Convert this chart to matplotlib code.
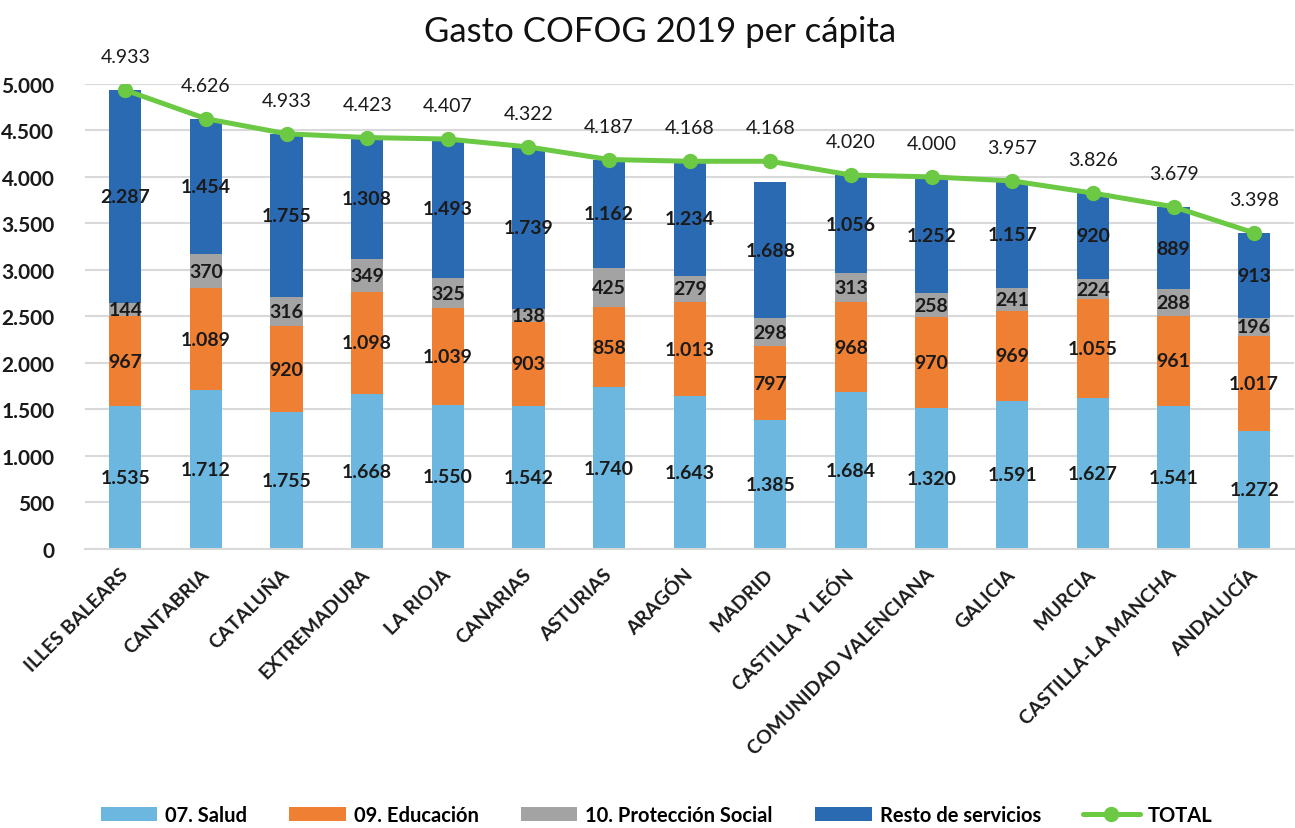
import matplotlib
matplotlib.use('Agg')
import matplotlib.pyplot as plt
import numpy as np

plt.rcParams['font.family'] = ['Lato', 'DejaVu Sans']

regions = ['ILLES BALEARS', 'CANTABRIA', 'CATALUÑA', 'EXTREMADURA', 'LA RIOJA',
           'CANARIAS', 'ASTURIAS', 'ARAGÓN', 'MADRID', 'CASTILLA Y LEÓN',
           'COMUNIDAD VALENCIANA', 'GALICIA', 'MURCIA', 'CASTILLA-LA MANCHA', 'ANDALUCÍA']

# bar heights as drawn in the picture
salud = [1535, 1712, 1473, 1668, 1550, 1542, 1740, 1643, 1385, 1684, 1520, 1591, 1627, 1541, 1272]
educ = [967, 1089, 920, 1098, 1039, 903, 858, 1013, 797, 968, 970, 969, 1055, 961, 1017]
prot = [144, 370, 316, 349, 325, 138, 425, 279, 298, 313, 258, 241, 224, 288, 196]
resto = [2287, 1454, 1755, 1308, 1493, 1739, 1162, 1234, 1466, 1056, 1252, 1157, 920, 889, 913]
total = [4933, 4626, 4464, 4423, 4407, 4322, 4187, 4168, 4168, 4020, 4000, 3957, 3826, 3679, 3398]

# labels as printed (a few differ from the drawn heights in the original)
salud_lbl = [1535, 1712, 1755, 1668, 1550, 1542, 1740, 1643, 1385, 1684, 1320, 1591, 1627, 1541, 1272]
resto_lbl = [2287, 1454, 1755, 1308, 1493, 1739, 1162, 1234, 1688, 1056, 1252, 1157, 920, 889, 913]
total_lbl = [4933, 4626, 4933, 4423, 4407, 4322, 4187, 4168, 4168, 4020, 4000, 3957, 3826, 3679, 3398]

COLORS = {
    'salud': '#6BB7DF',
    'educ': '#EE7F33',
    'prot': '#A3A3A3',
    'resto': '#2A6AB2',
    'total': '#6BC944',
}


def fmt(v):
    return f'{v:,.0f}'.replace(',', '.')


fig = plt.figure(figsize=(12.95, 8.29), dpi=100)
ax = fig.add_axes([0.0656, 0.3366, 0.934, 0.561])

x = np.arange(len(regions))
w = 0.40
bottom = np.zeros(len(regions))
series = [
    (salud, salud_lbl, 'salud', '07. Salud'),
    (educ, educ, 'educ', '09. Educación'),
    (prot, prot, 'prot', '10. Protección Social'),
    (resto, resto_lbl, 'resto', 'Resto de servicios'),
]
handles = []
for vals, lbls, key, name in series:
    bars = ax.bar(x, vals, w, bottom=bottom, color=COLORS[key], label=name, zorder=2)
    handles.append(bars)
    ax.bar_label(bars, labels=[fmt(v) for v in lbls], label_type='center',
                 fontsize=14, fontweight='bold', color='#1a1a1a', zorder=5)
    bottom += np.array(vals)

line, = ax.plot(x, total, '-o', color=COLORS['total'], lw=3.6, markersize=10,
                solid_joinstyle='round', solid_capstyle='round', label='TOTAL', zorder=4)
handles.append(line)
for xi, yi, lb in zip(x, total, total_lbl):
    ax.annotate(fmt(lb), (xi, yi), xytext=(0, 24), textcoords='offset points',
                ha='center', va='center', fontsize=14, color='#1a1a1a',
                annotation_clip=False)

ax.set_xlim(-0.5, len(regions) - 0.5)
ax.set_ylim(0, 5000)
ax.set_yticks(np.arange(0, 5001, 500))
ax.set_yticklabels([fmt(v) for v in np.arange(0, 5001, 500)], fontsize=15,
                   fontweight='bold', color='#1a1a1a')
ax.set_xticks(x)
ax.set_xticklabels(regions, rotation=45, ha='right', va='center',
                   rotation_mode='anchor', fontsize=14, fontweight='bold',
                   color='#1a1a1a')
ax.tick_params(axis='both', length=0)
ax.tick_params(axis='x', pad=16)
ax.tick_params(axis='y', pad=22)
ax.grid(True, axis='y', color='#D9D9D9', lw=1.5, zorder=0)
ax.set_axisbelow(True)
for s in ['top', 'right', 'left']:
    ax.spines[s].set_visible(False)
ax.spines['bottom'].set_color('#D9D9D9')
ax.spines['bottom'].set_linewidth(1.5)

fig.text(0.51, 0.962, 'Gasto COFOG 2019 per cápita', ha='center', va='center',
         fontsize=25, color='#111111')

fig.legend(handles, [h.get_label() for h in handles], loc='center',
           bbox_to_anchor=(0.507, 0.0157), ncol=5, frameon=False,
           handlelength=2.8, handleheight=0.7, handletextpad=0.4, columnspacing=2.1,
           prop={'size': 14.5, 'weight': 'bold'})

fig.savefig('out.png', dpi=100)
